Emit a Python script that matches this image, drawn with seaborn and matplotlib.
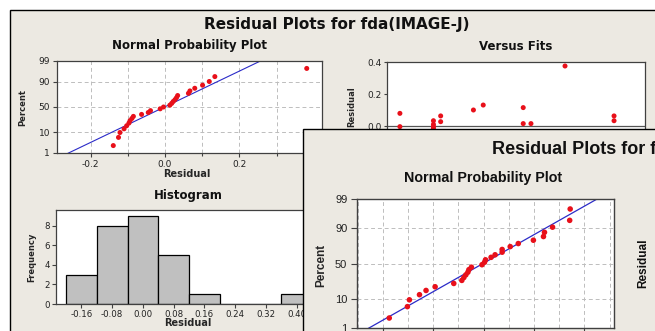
import numpy as np
import pandas as pd
import matplotlib
matplotlib.use("Agg")
import matplotlib.pyplot as plt
import seaborn as sns
from matplotlib.patches import Rectangle
from statistics import NormalDist

# ---------------- data ----------------
# window 1 residuals (fda IMAGE-J)
resid_a = [-0.139, -0.125, -0.121, -0.110, -0.103, -0.097, -0.094, -0.089, -0.085,
           -0.063, -0.045, -0.039, -0.013, -0.004, 0.013, 0.018, 0.022, 0.027,
           0.031, 0.034, 0.063, 0.067, 0.080, 0.101, 0.119, 0.134, 0.381]
# versus fits (visible part)
fits_vis = [0.05, 0.05, 0.18, 0.18, 0.18, 0.18, 0.208, 0.208, 0.335, 0.373,
            0.528, 0.528, 0.558, 0.69, 0.88, 0.88]
resid_vis = [0.079, -0.004, 0.033, 0.010, -0.004, -0.015, 0.063, 0.027, 0.100, 0.131,
             0.115, 0.015, 0.015, 0.375, 0.063, 0.033]
# window 2 residuals (second window)
resid_b = [-0.187, -0.151, -0.147, -0.127, -0.114, -0.096, -0.059, -0.043, -0.039,
           -0.035, -0.031, -0.029, -0.024, -0.003, 0.002, 0.004, 0.015, 0.023,
           0.037, 0.037, 0.053, 0.069, 0.099, 0.119, 0.121, 0.137, 0.171, 0.172]
hist_edges = [-0.20, -0.12, -0.04, 0.04, 0.12, 0.20, 0.28, 0.36, 0.44]
hist_ticks = [-0.16, -0.08, 0.00, 0.08, 0.16, 0.24, 0.32, 0.40]
pct_ticks = [1, 10, 50, 90, 99]
np1_ticks = [-0.2, 0.0, 0.2]
np1_minor = [-0.1, 0.1, 0.3]
vf_ticks = [-0.2, 0.0, 0.2, 0.4]
freq_ticks = [0, 2, 4, 6, 8]

# ---------------- style ----------------
sns.set_theme(style="white")
plt.rcParams['font.family'] = ['DejaVu Sans']
plt.rcParams['axes.unicode_minus'] = False

W, H = 655, 331
BEIGE = '#ECE9E2'
SPINE = '#404040'
GRID = '#BDBDBD'
RED = '#E8101A'
BLUE = '#2B2BC8'
nd = NormalDist()


def px_rect(x0, y0, x1, y1):
    return [x0 / W, 1 - y1 / H, (x1 - x0) / W, (y1 - y0) / H]


def prob_positions(vals):
    v = np.sort(np.asarray(vals, dtype=float))
    n = len(v)
    p = (np.arange(1, n + 1) - 0.3) / (n + 0.4)
    z = np.array([nd.inv_cdf(pi) for pi in p])
    return v, z


def style_axes(ax, lw=0.9):
    for s in ax.spines.values():
        s.set_visible(True)
        s.set_color(SPINE)
        s.set_linewidth(lw)


fig = plt.figure(figsize=(W / 100, H / 100), dpi=100, facecolor='white')

# window 1 background
fig.add_artist(Rectangle((10 / W, -0.1), 1.2, (1 - 10 / H) + 0.1, transform=fig.transFigure,
                         facecolor=BEIGE, edgecolor='black', lw=1.0, zorder=-10))

fig.text(337 / W, 1 - 24 / H, "Residual Plots for fda(IMAGE-J)", ha='center', va='center',
         fontsize=11, fontweight='bold', color='#111111', zorder=3)
fig.text(189 / W, 1 - 46 / H, "Normal Probability Plot", ha='center', va='center',
         fontsize=8.5, fontweight='bold', color='#111111', zorder=3)
fig.text(516 / W, 1 - 46 / H, "Versus Fits", ha='center', va='center',
         fontsize=8.5, fontweight='bold', color='#111111', zorder=3)
fig.text(188 / W, 1 - 196 / H, "Histogram", ha='center', va='center',
         fontsize=8.5, fontweight='bold', color='#111111', zorder=3)

zlim = (nd.inv_cdf(0.01), nd.inv_cdf(0.99))

# ---- normal probability plot (window 1)
ax1 = fig.add_axes(px_rect(57, 61, 322, 153), zorder=1)
ax1.set_facecolor('white')
va, za = prob_positions(resid_a)
mu_a, sd_a = np.mean(resid_a), np.std(resid_a, ddof=1)
zl = np.array([-3.0, 3.0])
sns.lineplot(x=mu_a + sd_a * zl, y=zl, ax=ax1, color=BLUE, lw=0.8, zorder=2)
sns.scatterplot(x=va, y=za, ax=ax1, color=RED, s=13, edgecolor='none', zorder=3)
ax1.set_xlim((57 - 165) / 372, (322 - 165) / 372)
ax1.set_ylim(*zlim)
ax1.set_yticks([nd.inv_cdf(p / 100) for p in pct_ticks])
ax1.set_yticklabels([str(p) for p in pct_ticks])
ax1.set_xticks(np1_ticks)
ax1.set_xticklabels([f"{t:.1f}" for t in np1_ticks])
ax1.set_xticks(np1_minor, minor=True)
ax1.grid(True, which='both', ls=(0, (4, 3)), color=GRID, lw=0.7)
ax1.set_axisbelow(True)
style_axes(ax1)
ax1.tick_params(axis='both', which='major', labelsize=6.5, length=3, width=0.8, pad=2,
                color=SPINE, labelcolor='#222222', left=True, bottom=True)
ax1.tick_params(axis='x', which='minor', length=2, width=0.8, color=SPINE, bottom=True)
ax1.set_xlabel("Residual", fontsize=7, fontweight='bold', va='center')
ax1.xaxis.set_label_coords((187 - 57) / 265, -(174 - 153) / 92)
ax1.set_ylabel("Percent", fontsize=6, fontweight='bold', va='center', ha='center')
ax1.yaxis.set_label_coords((23 - 57) / 265, (153 - 108) / 92)

# ---- versus fits (window 1)
ax2 = fig.add_axes(px_rect(387, 62, 645, 174), zorder=1)
ax2.set_facecolor('white')
ax2.axhline(0, color='#555555', lw=0.9, zorder=1)
sns.scatterplot(x=fits_vis, y=resid_vis, ax=ax2, color=RED, s=13, edgecolor='none', zorder=3)
ax2.set_xlim(0, 1)
ax2.set_ylim(-0.3, 0.4)
ax2.set_yticks(vf_ticks)
ax2.set_yticklabels([f"{t:.1f}" for t in vf_ticks])
ax2.set_xticks([])
style_axes(ax2)
ax2.tick_params(axis='y', labelsize=6.5, length=2, width=0.8, pad=2, color=SPINE,
                labelcolor='#222222', left=True)
ax2.set_ylabel("Residual", fontsize=6, fontweight='bold', va='center', ha='center')
ax2.yaxis.set_label_coords((352 - 387) / 258, (174 - 107) / 112)

# ---- histogram (window 1)
ax3 = fig.add_axes(px_rect(56, 210, 330, 304), zorder=1)
ax3.set_facecolor('white')
sns.histplot(x=resid_a, bins=hist_edges, ax=ax3, color='#C0C0C0', edgecolor='black',
             linewidth=0.9, alpha=1.0, stat='count')
ax3.set_xlim((56 - 142.9) / 384.6, (330 - 142.9) / 384.6)
ax3.set_ylim(0, 9.6)
ax3.set_xticks(hist_ticks)
ax3.set_xticklabels([f"{t:.2f}" for t in hist_ticks])
ax3.set_yticks(freq_ticks)
style_axes(ax3)
ax3.tick_params(axis='both', labelsize=6.2, length=3, width=0.8, pad=1.5, color=SPINE,
                labelcolor='#222222', left=True, bottom=True)
ax3.set_xlabel("Residual", fontsize=7, fontweight='bold', va='center')
ax3.xaxis.set_label_coords((188 - 56) / 274, -(323 - 304) / 94)
ax3.set_ylabel("Frequency", fontsize=6, fontweight='bold', va='center', ha='center')
ax3.yaxis.set_label_coords((32 - 56) / 274, (304 - 257) / 94)

# ---------------- window 2 (front) ----------------
fig.add_artist(Rectangle((303 / W, -0.1), 1.0, (1 - 129 / H) + 0.1, transform=fig.transFigure,
                         facecolor=BEIGE, edgecolor='black', lw=1.0, zorder=5))
fig.text(492 / W, 1 - 150 / H, "Residual Plots for fda(IMAGE-J)", ha='left', va='center',
         fontsize=13, fontweight='bold', family=['Liberation Sans', 'DejaVu Sans'],
         color='#111111', zorder=7)
fig.text(483.5 / W, 1 - 178 / H, "Normal Probability Plot", ha='center', va='center',
         fontsize=10.3, fontweight='bold', family=['Liberation Sans', 'DejaVu Sans'],
         color='#111111', zorder=7)
fig.text(643 / W, 1 - 263 / H, "Residual", ha='center', va='center', rotation=90,
         fontsize=8.5, fontweight='bold', family=['Liberation Sans', 'DejaVu Sans'],
         color='#111111', zorder=7)

ax4 = fig.add_axes(px_rect(357, 199, 614, 328), zorder=6)
ax4.set_facecolor('white')
vb, zb = prob_positions(resid_b)
mu_b, sd_b = np.mean(resid_b), np.std(resid_b, ddof=1)
sns.lineplot(x=mu_b + sd_b * zl, y=zl, ax=ax4, color=BLUE, lw=0.9, zorder=2)
sns.scatterplot(x=vb, y=zb, ax=ax4, color=RED, s=16, edgecolor='none', zorder=3)
ax4.set_xlim((357 - 483.5) / 504, (614 - 483.5) / 504)
ax4.set_ylim(*zlim)
ax4.set_yticks([nd.inv_cdf(p / 100) for p in pct_ticks])
ax4.set_yticklabels([str(p) for p in pct_ticks], family=['Liberation Sans', 'DejaVu Sans'])
ax4.set_xticks([-0.2, -0.1, 0.0, 0.1, 0.2])
ax4.set_xticklabels([])
ax4.set_xticks([-0.25, -0.15, -0.05, 0.05, 0.15, 0.25], minor=True)
ax4.grid(True, which='both', ls=(0, (4, 3)), color=GRID, lw=0.7)
ax4.set_axisbelow(True)
style_axes(ax4, lw=1.0)
ax4.tick_params(axis='both', which='major', labelsize=8, length=4, width=0.8, pad=3,
                color=SPINE, labelcolor='#222222', left=True, bottom=True)
ax4.tick_params(axis='x', which='minor', length=0)
ax4.set_ylabel("Percent", fontsize=8.5, fontweight='bold', va='center', ha='center',
               family=['Liberation Sans', 'DejaVu Sans'])
ax4.yaxis.set_label_coords((321 - 357) / 257, (328 - 265) / 129)

fig.savefig("out.png", dpi=100, facecolor='white')
